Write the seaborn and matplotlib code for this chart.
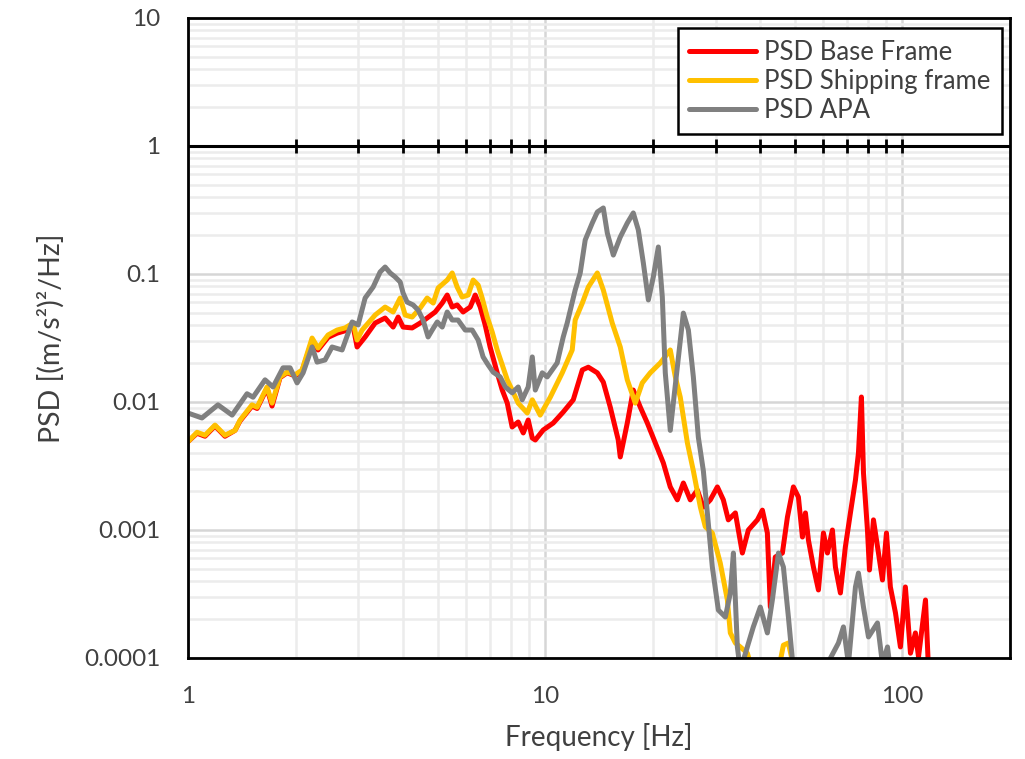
import numpy as np
import pandas as pd
import matplotlib
matplotlib.use("Agg")
import matplotlib.pyplot as plt
import seaborn as sns
from matplotlib.ticker import LogLocator, NullFormatter, FuncFormatter
from matplotlib.transforms import blended_transform_factory

# ---------------- data ----------------
series_names = ["PSD Base Frame", "PSD Shipping frame", "PSD APA"]
series_colors = ["#FF0000", "#FFC000", "#808080"]

base_freq = [1.00, 1.06, 1.116, 1.19, 1.269, 1.354, 1.398, 1.511, 1.561, 1.664,
             1.719, 1.81, 1.894, 1.994, 2.086, 2.225, 2.312, 2.467, 2.615, 2.752,
             2.899, 2.974, 3.132, 3.341, 3.563, 3.752, 3.875, 4.0, 4.241, 4.466,
             4.671, 4.92, 5.148, 5.316, 5.49, 5.668, 5.891, 6.166, 6.368, 6.577,
             6.79, 7.01, 7.338, 7.58, 7.83, 8.08, 8.40, 8.68, 8.96, 9.20,
             9.38, 9.87, 10.53, 11.23, 11.98, 12.70, 13.20, 13.99, 14.54, 15.21,
             16.01, 16.22, 16.97, 17.64, 18.46, 19.31, 20.33, 21.41, 22.39, 23.43,
             24.36, 25.47, 26.66, 27.71, 28.98, 30.33, 31.52, 32.55, 34.06, 35.63,
             37.04, 39.26, 40.54, 41.86, 42.67, 44.06, 46.12, 47.64, 49.51, 51.13,
             52.48, 53.5, 54.54, 56.33, 58.18, 60.08, 61.66, 63.67, 64.91, 67.03,
             69.2, 71.5, 73.86, 75.30, 76.75, 77.78, 79.8, 80.84, 82.95, 85.67,
             87.9, 90.2, 92.5, 95.6, 98.7, 101.9, 105.3, 108.7, 110.9, 116.0,
             118.3]
base_psd = [0.0049, 0.0057, 0.0054, 0.0065, 0.0054, 0.0060, 0.0071, 0.0093, 0.0089, 0.0128,
            0.0093, 0.0155, 0.0169, 0.0160, 0.0175, 0.0300, 0.0255, 0.0320, 0.0345, 0.0360,
            0.0390, 0.0269, 0.0322, 0.0414, 0.0453, 0.0385, 0.0461, 0.0385, 0.0379, 0.0414,
            0.0453, 0.0505, 0.0593, 0.0685, 0.0552, 0.0573, 0.0505, 0.0552, 0.0685, 0.0552,
            0.0400, 0.0269, 0.0169, 0.0124, 0.0098, 0.00638, 0.00698, 0.00573, 0.00723, 0.00523,
            0.00505, 0.00604, 0.00685, 0.00835, 0.0104, 0.0178, 0.0187, 0.0169, 0.0143, 0.0091,
            0.00505, 0.00372, 0.00685, 0.0124, 0.0091, 0.00685, 0.00479, 0.00334, 0.00217, 0.00172,
            0.00233, 0.00172, 0.00205, 0.00151, 0.00172, 0.00217, 0.00172, 0.00120, 0.00136, 0.000661,
            0.00100, 0.00120, 0.00143, 0.000948, 0.00025, 0.000615, 0.000661, 0.00126, 0.00217, 0.00181,
            0.000881, 0.00136, 0.000835, 0.000514, 0.00034, 0.000948, 0.000661, 0.00100, 0.000514, 0.000322,
            0.000736, 0.00136, 0.00246, 0.0040, 0.01094, 0.00279, 0.00100, 0.000487, 0.00120, 0.000661,
            0.000407, 0.000948, 0.000359, 0.000225, 0.000122, 0.000359, 0.000109, 0.000157, 0.000102, 0.000284,
            0.00008]

ship_freq = [1.00, 1.06, 1.116, 1.19, 1.269, 1.354, 1.398, 1.511, 1.561, 1.664,
             1.719, 1.81, 1.894, 1.994, 2.086, 2.225, 2.312, 2.467, 2.615, 2.752,
             2.899, 2.974, 3.073, 3.341, 3.563, 3.752, 3.926, 4.054, 4.241, 4.466,
             4.671, 4.858, 5.015, 5.316, 5.49, 5.668, 5.854, 6.085, 6.284, 6.49,
             6.66, 6.88, 7.105, 7.338, 7.58, 7.83, 8.08, 8.40, 8.906, 9.20,
             9.68, 10.33, 11.16, 11.90, 12.13, 12.70, 13.20, 13.99, 14.54, 15.40,
             16.22, 16.97, 17.87, 18.69, 19.68, 21.0, 22.39, 23.13, 23.88, 25.0,
             25.98, 27.18, 28.06, 29.36, 30.9, 32.35, 32.97, 34.06, 35.16, 36.8,
             38.0, 44.96, 46.42, 47.94, 49.83]
ship_psd = [0.0049, 0.0058, 0.0055, 0.0066, 0.0055, 0.0060, 0.0072, 0.0095, 0.0091, 0.0131,
            0.0098, 0.0157, 0.0171, 0.0163, 0.0178, 0.0316, 0.0264, 0.0334, 0.0365, 0.0379,
            0.0414, 0.0305, 0.0365, 0.0478, 0.0552, 0.0505, 0.0649, 0.0478, 0.0461, 0.0542,
            0.0649, 0.0593, 0.0778, 0.0897, 0.1019, 0.0791, 0.0661, 0.0685, 0.0897, 0.0820,
            0.0649, 0.0461, 0.0352, 0.0255, 0.0195, 0.0149, 0.0124, 0.0098, 0.0082, 0.0104,
            0.0079, 0.0109, 0.0169, 0.0255, 0.0437, 0.0593, 0.0791, 0.1019, 0.0750, 0.0414,
            0.0269, 0.0149, 0.0098, 0.0141, 0.0169, 0.0202, 0.0255, 0.0157, 0.0109, 0.00479,
            0.0029, 0.00151, 0.00106, 0.000948, 0.000552, 0.000284, 0.000157, 0.000131, 0.000122, 0.000109,
            0.00008, 0.00008, 0.000126, 0.000131, 0.00008]

apa_freq = [1.00, 1.094, 1.213, 1.329, 1.463, 1.521, 1.643, 1.730, 1.845, 1.931,
            2.020, 2.100, 2.225, 2.298, 2.419, 2.531, 2.700, 2.881, 2.994, 3.132,
            3.298, 3.450, 3.563, 3.681, 3.80, 3.926, 4.0, 4.104, 4.267, 4.407,
            4.55, 4.70, 4.826, 4.985, 5.148, 5.316, 5.49, 5.70, 5.97, 6.245,
            6.49, 6.70, 6.92, 7.15, 7.48, 7.73, 8.08, 8.40, 8.62, 8.96,
            9.20, 9.38, 9.81, 10.13, 10.80, 11.23, 11.52, 12.13, 12.53, 12.94,
            13.54, 13.99, 14.54, 14.92, 15.51, 16.22, 16.97, 17.64, 18.22, 18.82,
            19.44, 20.07, 20.73, 21.27, 21.68, 22.39, 23.43, 24.36, 25.16, 25.98,
            26.83, 27.71, 28.43, 29.36, 30.52, 31.93, 32.97, 33.63, 34.50, 35.16,
            38.24, 40.0, 41.86, 43.23, 44.96, 46.42, 47.94, 49.51, 57.07, 66.19,
            68.36, 70.6, 73.86, 75.30, 77.78, 80.33, 85.11, 87.9, 90.8, 92.5]
apa_psd = [0.0082, 0.0075, 0.0095, 0.0079, 0.0116, 0.0109, 0.0149, 0.0131, 0.0185, 0.0185,
           0.0141, 0.0169, 0.0269, 0.0205, 0.0213, 0.0269, 0.0255, 0.0422, 0.0400, 0.0649,
           0.0791, 0.1037, 0.1134, 0.1019, 0.0949, 0.0866, 0.0711, 0.0604, 0.0573, 0.0523,
           0.0437, 0.0322, 0.0365, 0.0422, 0.0385, 0.0505, 0.0437, 0.0437, 0.0365, 0.0365,
           0.0305, 0.0225, 0.0195, 0.0171, 0.0157, 0.0131, 0.0118, 0.0131, 0.0104, 0.0131,
           0.0225, 0.0124, 0.0169, 0.0157, 0.0202, 0.0322, 0.0414, 0.0750, 0.1019, 0.1845,
           0.250, 0.305, 0.328, 0.209, 0.1406, 0.1945, 0.250, 0.300, 0.221, 0.122,
           0.0627, 0.0949, 0.1626, 0.0661, 0.0169, 0.0060, 0.01875, 0.0495, 0.0365, 0.0157,
           0.0053, 0.0029, 0.00136, 0.000514, 0.000237, 0.000209, 0.000322, 0.000661, 0.000122, 0.00008,
           0.000175, 0.00025, 0.000157, 0.000284, 0.000661, 0.000514, 0.000209, 0.00008, 0.00006, 0.000131,
           0.000175, 0.00009, 0.000359, 0.000461, 0.00025, 0.000146, 0.000188, 0.00009, 0.000122, 0.00008]

x_label = "Frequency [Hz]"
y_label = "PSD [(m/s²)²/Hz]"
x_cross_value = 1.0  # the horizontal axis crosses the vertical one at PSD = 1

# ---------------- styling ----------------
sns.set_style("white")
plt.rcParams['font.family'] = ['Lato', 'DejaVu Sans']
text_color = "#404040"

df = pd.concat([
    pd.DataFrame({"Frequency": base_freq, "PSD": base_psd, "Series": series_names[0]}),
    pd.DataFrame({"Frequency": ship_freq, "PSD": ship_psd, "Series": series_names[1]}),
    pd.DataFrame({"Frequency": apa_freq, "PSD": apa_psd, "Series": series_names[2]}),
], ignore_index=True)

fig = plt.figure(figsize=(10.25, 7.59), dpi=100)
ax = fig.add_axes([188 / 1025, 1 - 658 / 759, 822 / 1025, 640 / 759])

sns.lineplot(data=df, x="Frequency", y="PSD", hue="Series", hue_order=series_names,
             palette=series_colors, estimator=None, sort=False, linewidth=3.6,
             ax=ax, legend=True)

ax.set_xscale("log")
ax.set_yscale("log")
x_min, x_max = 1, 200
y_min, y_max = 1e-4, 10
ax.set_xlim(x_min, x_max)
ax.set_ylim(y_min, y_max)

ax.xaxis.set_major_locator(LogLocator(base=10, numticks=20))
ax.xaxis.set_minor_locator(LogLocator(base=10, subs=np.arange(2, 10), numticks=50))
ax.yaxis.set_major_locator(LogLocator(base=10, numticks=20))
ax.yaxis.set_minor_locator(LogLocator(base=10, subs=np.arange(2, 10), numticks=50))
fmt = FuncFormatter(lambda v, p: f"{v:g}")
ax.xaxis.set_major_formatter(fmt)
ax.yaxis.set_major_formatter(fmt)
ax.xaxis.set_minor_formatter(NullFormatter())
ax.yaxis.set_minor_formatter(NullFormatter())

ax.set_axisbelow(True)
ax.grid(True, which="minor", color="#ececec", linewidth=1.8)
ax.grid(True, which="major", color="#d6d6d6", linewidth=1.8)

ax.tick_params(axis="x", which="both", length=0, pad=20, labelsize=17.5, labelcolor=text_color)
ax.tick_params(axis="y", which="major", direction="in", length=6, width=2, pad=20,
               labelsize=17.5, labelcolor=text_color, color="black")
ax.tick_params(axis="y", which="minor", direction="in", length=3.5, width=2, color="black")

for s in ax.spines.values():
    s.set_visible(True)
    s.set_color("black")
    s.set_linewidth(2)

# Excel style: horizontal axis line crossing at PSD = 1, with tick marks taken from the x locators
ax.axhline(x_cross_value, color="black", linewidth=2.2, zorder=3)
cross_pos = (np.log10(x_cross_value) - np.log10(y_min)) / (np.log10(y_max) - np.log10(y_min))
tick_locs = [t for t in np.concatenate([ax.xaxis.get_majorticklocs(), ax.xaxis.get_minorticklocs()])
             if x_min < t < x_max]
trans = blended_transform_factory(ax.transData, ax.transAxes)
ax.vlines(tick_locs, cross_pos - 0.0105, cross_pos + 0.0105, transform=trans,
          colors="black", linewidth=2, zorder=3)

ax.set_xlabel(x_label, fontsize=20, color=text_color, labelpad=12)
ax.set_ylabel(y_label, fontsize=20.5, color=text_color, labelpad=14)

handles, labels = ax.get_legend_handles_labels()
leg = ax.legend(handles, labels, loc="upper right", bbox_to_anchor=(0.990, 0.984),
                borderaxespad=0, frameon=True, fancybox=False, edgecolor="black",
                framealpha=1, fontsize=18.5, handlelength=2.6, handletextpad=0.3,
                labelspacing=0.15, borderpad=0.45)
leg.get_frame().set_linewidth(1.8)
leg.set_zorder(5)
for t in leg.get_texts():
    t.set_color(text_color)
for h in leg.get_lines():
    h.set_linewidth(3.6)

fig.savefig("out.png", dpi=100)
